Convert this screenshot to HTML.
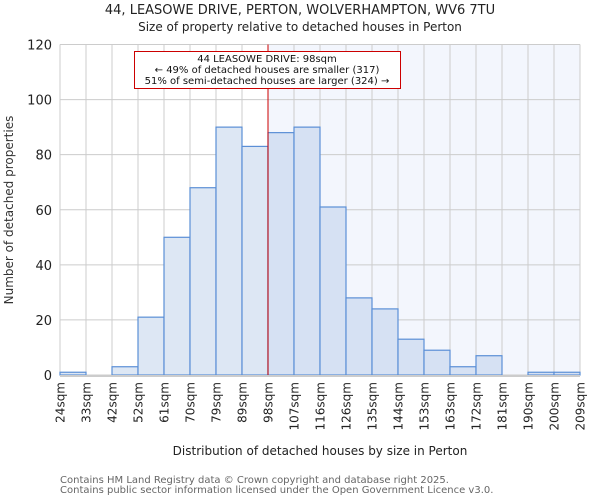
<!DOCTYPE html>
<html><head><meta charset="utf-8"><style>
body{margin:0;background:#fff;font-family:"DejaVu Sans","Liberation Sans",sans-serif;}
svg text{font-family:"DejaVu Sans","Liberation Sans",sans-serif;}
</style></head><body>
<svg width="600" height="500" viewBox="0 0 600 500" id="chart">
<text x="300" y="14" text-anchor="middle" font-size="13" fill="#222">44, LEASOWE DRIVE, PERTON, WOLVERHAMPTON, WV6 7TU</text>
<text x="300" y="31" text-anchor="middle" font-size="12" fill="#222">Size of property relative to detached houses in Perton</text>
<g id="plot"></g>
<text x="320" y="455" text-anchor="middle" font-size="12" fill="#222">Distribution of detached houses by size in Perton</text>
<text transform="translate(13,210) rotate(-90)" text-anchor="middle" font-size="12" fill="#333">Number of detached properties</text>
<text x="60" y="483" font-size="10" fill="#666">Contains HM Land Registry data © Crown copyright and database right 2025.</text>
<text x="60" y="493" font-size="10" fill="#666">Contains public sector information licensed under the Open Government Licence v3.0.</text>
</svg>
<script>
const categories=["24sqm","33sqm","42sqm","52sqm","61sqm","70sqm","79sqm","89sqm","98sqm","107sqm","116sqm","126sqm","135sqm","144sqm","153sqm","163sqm","172sqm","181sqm","190sqm","200sqm","209sqm"];
const counts=[1,0,3,21,50,68,90,83,88,90,61,28,24,13,9,3,7,0,1,1];
const yTicks=[0,20,40,60,80,100,120];
const markerIndex=8;
const NS="http://www.w3.org/2000/svg";
const L=60,R=580,T=44.5,B=375,yMax=120;
const n=counts.length;
const x=i=>L+(R-L)*i/n;
const y=v=>B-(B-T)*v/yMax;
const g=document.getElementById('plot');
function mk(t,a){const e=document.createElementNS(NS,t);for(const k in a)e.setAttribute(k,a[k]);g.appendChild(e);return e;}
let e;
e=mk('rect',{x:x(markerIndex),y:T,width:R-x(markerIndex),height:B-T,fill:'#f3f6fd'});


for(let i=0;i<=n;i++){e=mk('line',{x1:x(i),x2:x(i),y1:T,y2:B,stroke:'#ccc','stroke-width':1});

}
yTicks.forEach(v=>{e=mk('line',{x1:L,x2:R,y1:y(v),y2:y(v),stroke:'#ccc','stroke-width':1});


e=mk('text',{x:L-8,y:y(v)+5,'text-anchor':'end','font-size':13,fill:'#222'});e.textContent=v;

});
counts.forEach((c,i)=>{if(c<=0)return;e=mk('rect',{x:x(i),y:y(c),width:x(i+1)-x(i),height:B-y(c),fill:i>=markerIndex?'#d6e1f3':'#dde7f4',stroke:'#5b8fd6','stroke-width':1.2});

});
e=mk('line',{x1:L,x2:R,y1:B+1,y2:B+1,stroke:'#ccc','stroke-width':2});


categories.forEach((c,i)=>{e=mk('text',{transform:`translate(${x(i)+4.5},382) rotate(-90)`,'text-anchor':'end','font-size':12,fill:'#222'});e.textContent=c;

});
e=mk('line',{x1:x(markerIndex),x2:x(markerIndex),y1:T,y2:B,stroke:'#cc0000','stroke-width':1});


e=mk('rect',{x:134.5,y:51.5,width:266,height:37,fill:'#fff',stroke:'#cc0000','stroke-width':1});


["44 LEASOWE DRIVE: 98sqm","← 49% of detached houses are smaller (317)","51% of semi-detached houses are larger (324) →"].forEach((t,k)=>{e=mk('text',{x:267,y:62+k*11,'text-anchor':'middle','font-size':10,fill:'#111'});e.textContent=t;

});
</script>
</body></html>
